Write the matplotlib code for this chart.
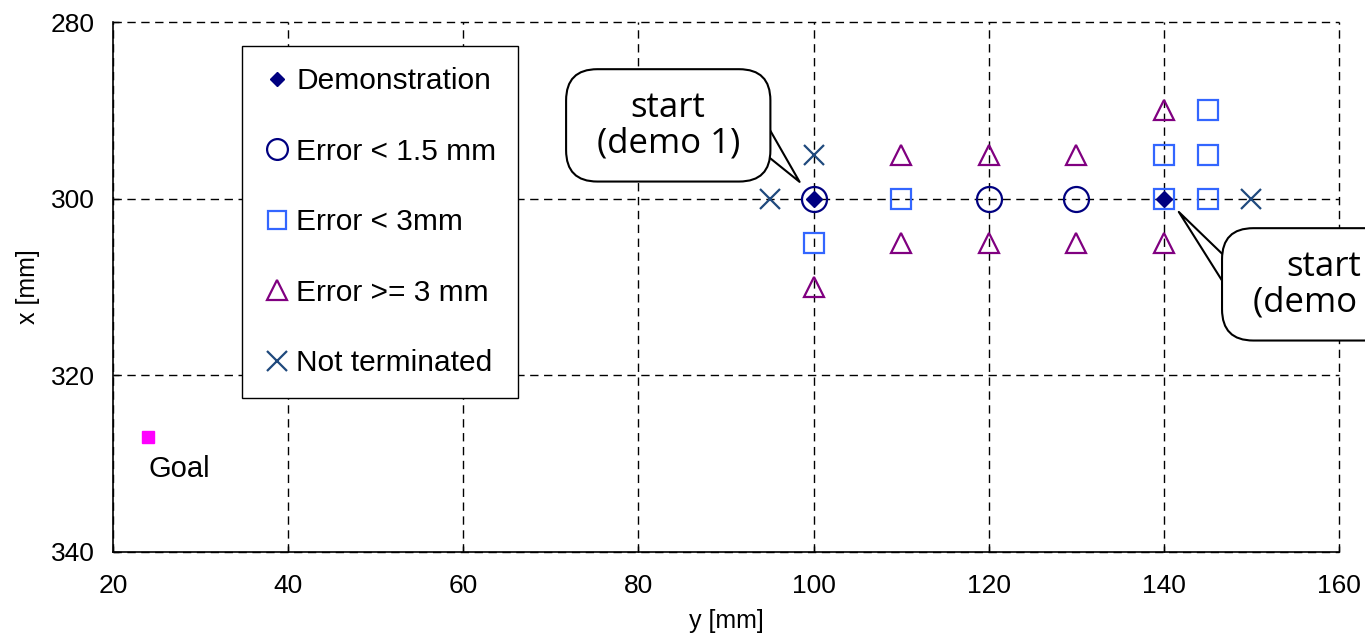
import matplotlib.pyplot as plt
from matplotlib.lines import Line2D

# data (y [mm] across, x [mm] down)
demo_y = [100, 140]
demo_x = [300, 300]

err15_y = [100, 120, 130]
err15_x = [300, 300, 300]

err3_y = [100, 110, 140, 140, 145, 145, 145]
err3_x = [305, 300, 295, 300, 290, 295, 300]

errbig_y = [100, 110, 110, 120, 120, 130, 130, 140, 140]
errbig_x = [310, 295, 305, 295, 305, 295, 305, 290, 305]

notterm_y = [100, 95, 150]
notterm_x = [295, 300, 300]

goal_y = [24]
goal_x = [327]

xticks = [20, 40, 60, 80, 100, 120, 140, 160]
yticks = [280, 300, 320, 340]

plt.rcParams['font.family'] = ['Liberation Sans', 'DejaVu Sans']

fig = plt.figure(figsize=(13.65, 6.33), dpi=100)
ax = fig.add_axes([0.0828, 0.128, 0.8982, 0.8372])

ax.plot(err15_y, err15_x, 'o', ms=18, mfc='none', mec='#000080', mew=1.6, clip_on=False)
ax.plot(err3_y, err3_x, 's', ms=14, mfc='none', mec='#3366FF', mew=1.6, clip_on=False)
ax.plot(errbig_y, errbig_x, '^', ms=15, mfc='none', mec='#800080', mew=1.6, clip_on=False)
ax.plot(notterm_y, notterm_x, 'x', ms=15, mec='#1F497D', mew=1.6, clip_on=False)
ax.plot(demo_y, demo_x, 'D', ms=8, mfc='#000080', mec='#000080', clip_on=False)
ax.plot(goal_y, goal_x, 's', ms=9, mfc='#FF00FF', mec='#FF00FF')
ax.text(goal_y[0], 330.6, 'Goal', fontsize=21, va='center', ha='left')

ax.set_xlim(20, 160)
ax.set_ylim(340, 280)
ax.set_xticks(xticks)
ax.set_yticks(yticks)
ax.tick_params(direction='in', length=4, width=1, labelsize=19)
ax.tick_params(axis='y', pad=13)
ax.tick_params(axis='x', pad=16)
ax.spines['top'].set_visible(False)
ax.spines['right'].set_visible(False)
ax.spines['left'].set_linewidth(1.2)
ax.spines['bottom'].set_linewidth(1.2)
ax.grid(True, color='black', linestyle=(0, (6, 4)), linewidth=1)
for gl in ax.get_xgridlines() + ax.get_ygridlines():
    gl.set_clip_on(False)
ax.set_axisbelow(True)

ax.set_xlabel('y [mm]', fontsize=18, labelpad=8)
ax.set_ylabel('x [mm]', fontsize=18, labelpad=8)

# callouts: wedge pointer drawn first, rounded box on top of it
bubble = dict(boxstyle='round,pad=0.62,rounding_size=0.9', fc='white', ec='black', lw=1.5)


def callout(txt, text_pos, base, tip, width):
    ax.annotate('', xy=tip, xytext=base, zorder=5, annotation_clip=False,
                arrowprops=dict(arrowstyle='wedge,tail_width=%g,shrink_factor=0.5' % width,
                                mutation_scale=10, fc='white', ec='black', lw=1.5,
                                shrinkA=0, shrinkB=0))
    ax.text(text_pos[0], text_pos[1], txt, fontsize=25, family=['Open Sans', 'DejaVu Sans'],
            ha='center', va='center', linespacing=1.05, bbox=bubble, zorder=6, clip_on=False)


callout('start\n (demo 1) ', (83.4, 291.7), (91.6, 290.2), (98.4, 298.1), 2.5)
callout('start\n (demo 2) ', (158.3, 309.7), (150.8, 312.6), (141.7, 301.5), 2.2)

handles = [
    Line2D([], [], ls='none', marker='D', ms=7, mfc='#000080', mec='#000080'),
    Line2D([], [], ls='none', marker='o', ms=15, mfc='none', mec='#000080', mew=1.6),
    Line2D([], [], ls='none', marker='s', ms=13, mfc='none', mec='#3366FF', mew=1.6),
    Line2D([], [], ls='none', marker='^', ms=14, mfc='none', mec='#800080', mew=1.6),
    Line2D([], [], ls='none', marker='x', ms=15, mec='#1F497D', mew=1.6),
]
labels = ['Demonstration', 'Error < 1.5 mm', 'Error < 3mm', 'Error >= 3 mm', 'Not terminated']
leg = ax.legend(handles, labels, loc='upper left', bbox_to_anchor=(0.105, 0.955),
                fontsize=21.5, frameon=True, fancybox=False, framealpha=1,
                edgecolor='black', labelspacing=1.42, handlelength=0.9,
                handletextpad=0.2, borderpad=0.72, borderaxespad=0)
leg.get_frame().set_linewidth(1.0)

fig.savefig('out.png', dpi=100)
